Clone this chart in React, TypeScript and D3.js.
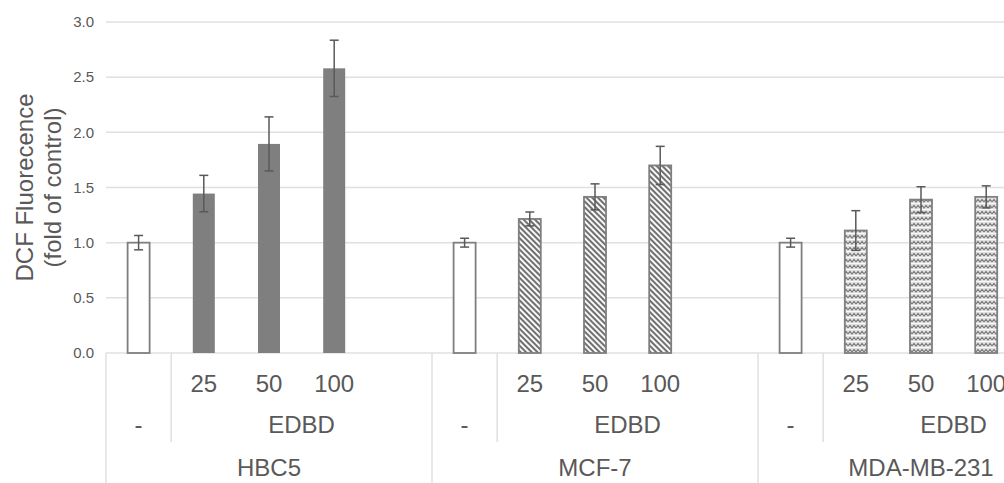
import React from "react";
import * as d3 from "d3";

// cell lines and dose labels
const groups = ["HBC5", "MCF-7", "MDA-MB-231"];
const doseLabels = ["", "25", "50", "100", ""];
const controlLabel = "-";
const treatLabel = "EDBD";

// means and SD (fold of control), order: control, 25, 50, 100
const hbc5Means = [1.0, 1.445, 1.895, 2.58];
const hbc5Errs = [0.065, 0.165, 0.245, 0.255];
const mcf7Means = [1.0, 1.215, 1.415, 1.7];
const mcf7Errs = [0.04, 0.063, 0.118, 0.173];
const mdaMeans = [1.0, 1.11, 1.39, 1.415];
const mdaErrs = [0.04, 0.18, 0.117, 0.1];

const yTicks = [0, 0.5, 1.0, 1.5, 2.0, 2.5, 3.0];

const W = 1004;
const H = 483;
const left = 106;
const step = 65.2;
const top = 22;
const bottom = 353;
const barW = 22;

const textColor = "#595959";
const gridColor = "#e0e0e0";
const barGray = "#7f7f7f";
const font = "'Liberation Sans', Arial, sans-serif";

export default function App() {
  const seriesMeans = [hbc5Means, mcf7Means, mdaMeans];
  const seriesErrs = [hbc5Errs, mcf7Errs, mdaErrs];
  const fills = ["url(#solid)", "url(#diag)", "url(#zig)"];

  const slots = d3.range(groups.length * doseLabels.length);
  const x = d3
    .scaleBand<number>()
    .domain(slots)
    .range([left, left + slots.length * step])
    .padding(0);
  const y = d3.scaleLinear().domain([0, 3]).range([bottom, top]);
  const fmt = d3.format(".1f");

  const bars: any[] = [];
  groups.forEach((g, gi) => {
    seriesMeans[gi].forEach((v, i) => {
      bars.push({
        key: `${g}-${i}`,
        slot: gi * doseLabels.length + i,
        value: v,
        err: seriesErrs[gi][i],
        fill: i === 0 ? "#ffffff" : fills[gi],
        control: i === 0,
        solid: gi === 0 && i > 0,
      });
    });
  });

  return (
    <svg
      width={W}
      height={H}
      style={{ position: "absolute", left: 0, top: 0, background: "#fff" }}
      fontFamily={font}
    >
      <defs>
        <pattern id="solid" width="4" height="4" patternUnits="userSpaceOnUse">
          <rect width="4" height="4" fill={barGray} />
        </pattern>
        <pattern
          id="diag"
          width="4"
          height="4"
          patternUnits="userSpaceOnUse"
          patternTransform="rotate(45)"
        >
          <rect width="4" height="4" fill="#ffffff" />
          <rect width="4" height="2.1" fill="#707070" />
        </pattern>
        <pattern id="zig" width="8" height="6" patternUnits="userSpaceOnUse">
          <rect width="8" height="6" fill="#e2e2e2" />
          <path
            d="M0,4 L2,1.5 L4,4 L6,1.5 L8,4"
            fill="none"
            stroke="#7a7a7a"
            strokeWidth="1.1"
          />
          <path d="M-1,5.5 L9,5.5" stroke="#ffffff" strokeWidth="0.8" />
        </pattern>
      </defs>

      {/* gridlines */}
      {yTicks.map((t) => (
        <g key={t}>
          <line
            x1={left}
            x2={W}
            y1={y(t)}
            y2={y(t)}
            stroke={gridColor}
            strokeWidth={1.5}
          />
          <text
            x={94}
            y={y(t)}
            dy="0.35em"
            textAnchor="end"
            fontSize={15}
            fill={textColor}
          >
            {fmt(t)}
          </text>
        </g>
      ))}

      {/* bars */}
      {bars.map((b) => {
        const cx = (x(b.slot) as number) + x.bandwidth() / 2;
        return (
          <g key={b.key}>
            <rect
              x={cx - barW / 2}
              y={y(b.value)}
              width={barW}
              height={y(0) - y(b.value)}
              fill={b.fill}
              stroke={b.solid ? "none" : barGray}
              strokeWidth={1.8}
            />
            <line
              x1={cx}
              x2={cx}
              y1={y(b.value + b.err)}
              y2={y(b.value - b.err)}
              stroke={textColor}
              strokeWidth={1.5}
            />
            {[b.value + b.err, b.value - b.err].map((e, k) => (
              <line
                key={k}
                x1={cx - 4.5}
                x2={cx + 4.5}
                y1={y(e)}
                y2={y(e)}
                stroke={textColor}
                strokeWidth={1.5}
              />
            ))}
          </g>
        );
      })}

      {/* category axis dividers */}
      {groups.map((g, gi) => {
        const s0 = gi * doseLabels.length;
        const gx0 = x(s0) as number;
        const gx1 = gx0 + doseLabels.length * step;
        const inner = x(s0 + 1) as number;
        return (
          <g key={g}>
            <line x1={gx0} x2={gx0} y1={bottom} y2={H} stroke={gridColor} strokeWidth={1.5} />
            <line x1={inner} x2={inner} y1={bottom} y2={442} stroke={gridColor} strokeWidth={1.5} />
            {doseLabels.map((d, i) => (
              <text
                key={i}
                x={(x(s0 + i) as number) + x.bandwidth() / 2}
                y={392}
                textAnchor="middle"
                fontSize={24}
                fill={textColor}
              >
                {d}
              </text>
            ))}
            <text
              x={gx0 + step / 2}
              y={433}
              textAnchor="middle"
              fontSize={24}
              fill={textColor}
            >
              {controlLabel}
            </text>
            <text
              x={(inner + gx1) / 2}
              y={433}
              textAnchor="middle"
              fontSize={24}
              fill={textColor}
            >
              {treatLabel}
            </text>
            <text
              x={(gx0 + gx1) / 2}
              y={476}
              textAnchor="middle"
              fontSize={24}
              fill={textColor}
            >
              {g}
            </text>
          </g>
        );
      })}

      {/* y axis title */}
      <g transform={`translate(0, ${(top + bottom) / 2}) rotate(-90)`}>
        <text x={0} y={25} dy="0.35em" textAnchor="middle" fontSize={24} fill={textColor}>
          DCF Fluorecence
        </text>
        <text x={0} y={53} dy="0.35em" textAnchor="middle" fontSize={24} fill={textColor}>
          (fold of control)
        </text>
      </g>
    </svg>
  );
}
